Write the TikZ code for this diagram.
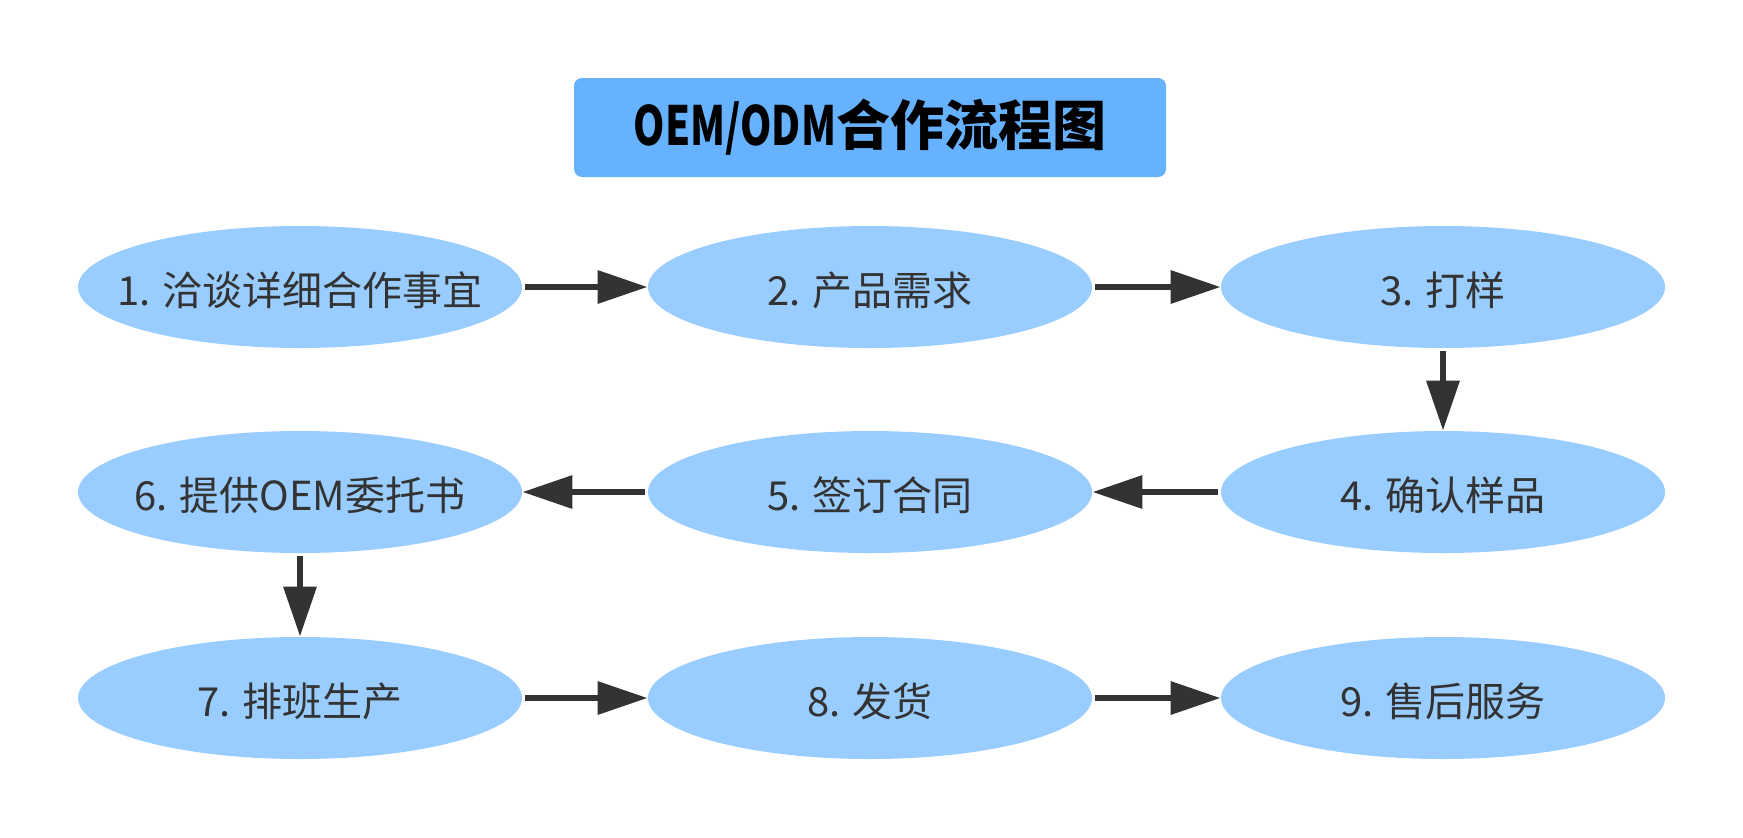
\documentclass[tikz,border=0pt]{standalone}
\usepackage{fontspec}
\setmainfont{Noto Sans CJK SC}
\usetikzlibrary{shapes.geometric,arrows.meta}
\definecolor{titlebg}{HTML}{66B2FF}
\definecolor{ellbg}{HTML}{99CCFF}
\definecolor{ink}{HTML}{333333}
\begin{document}
\begin{tikzpicture}[x=0.5pt,y=-0.5pt,
  stage/.style={ellipse, fill=ellbg, minimum width=222pt, minimum height=61pt, inner sep=0pt,
    label={[text=ink, font=\fontsize{20pt}{24pt}\selectfont, inner sep=0pt, yshift=-1.5pt]center:#1}},
  flow/.style={draw=ink, line width=3.25pt, -{Triangle[length=25pt,width=16pt]}, shorten <=1.5pt},
  titlebox/.style={fill=titlebg, rounded corners=4pt, minimum width=296pt, minimum height=49.5pt, inner sep=0pt, text=black, font=\fontsize{27pt}{30pt}\selectfont\bfseries}]
\useasboundingbox (0,0) rectangle (1743,837);
\node[titlebox] (title) at (870,127.5) {\scalebox{0.74}[1]{OEM/ODM}合作流程图};
\node[stage={1. 洽谈详细合作事宜}] (s1) at (300,287) {};
\node[stage={2. 产品需求}] (s2) at (870,287) {};
\node[stage={3. 打样}] (s3) at (1443,287) {};
\node[stage={4. 确认样品}] (s4) at (1443,492) {};
\node[stage={5. 签订合同}] (s5) at (870,492) {};
\node[stage={6. 提供OEM委托书}] (s6) at (300,492) {};
\node[stage={7. 排班生产}] (s7) at (300,698) {};
\node[stage={8. 发货}] (s8) at (870,698) {};
\node[stage={9. 售后服务}] (s9) at (1443,698) {};
\draw[flow] (s1.east) -- (s2.west);
\draw[flow] (s2.east) -- (s3.west);
\draw[flow] (s3.south) -- (s4.north);
\draw[flow] (s4.west) -- (s5.east);
\draw[flow] (s5.west) -- (s6.east);
\draw[flow] (s6.south) -- (s7.north);
\draw[flow] (s7.east) -- (s8.west);
\draw[flow] (s8.east) -- (s9.west);
\end{tikzpicture}
\end{document}
